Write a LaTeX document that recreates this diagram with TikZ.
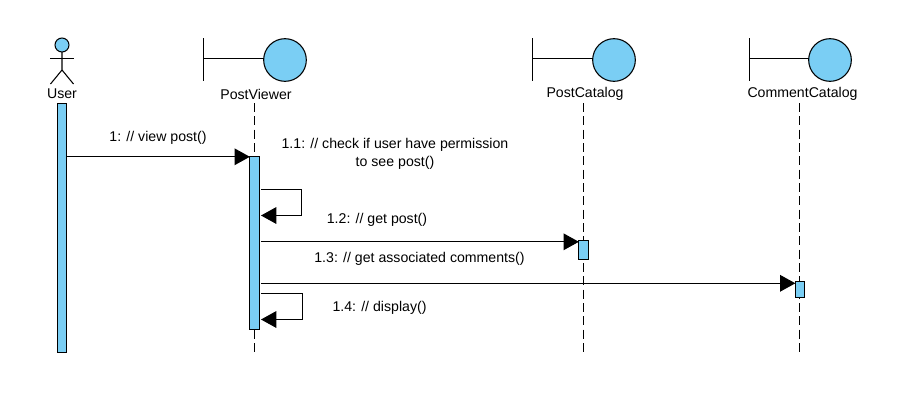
\documentclass[tikz,border=0pt]{standalone}
\usepackage{fontspec}
\setmainfont{Liberation Sans}
\usepackage{xcolor}
\usetikzlibrary{arrows.meta}
\definecolor{actfill}{HTML}{7ACEF4}
\tikzset{
  label/.style={font=\fontsize{10.6}{13.2}\selectfont, inner sep=0pt},
  lifeline/.style={line width=0.8pt, dash pattern=on 6.75pt off 3.25pt},
  actbar/.style={draw, fill=actfill, line width=0.75pt, minimum width=7pt, inner sep=0pt, outer sep=0pt},
  ball/.style={draw, circle, fill=actfill, line width=0.8pt, minimum size=32pt, inner sep=0pt, outer sep=0pt},
  msg/.style={line width=0.8pt, -{Triangle[length=11.5pt, width=12.5pt]}},
  selfmsg/.style={msg, shorten <=1.5pt, shorten >=1.5pt}
}
\begin{document}
\begin{tikzpicture}[x=0.75pt, y=-0.75pt]
\useasboundingbox (0,0) rectangle (916,404);

% Actor
\node[draw, circle, fill=actfill, line width=0.8pt, minimum size=10.5pt, inner sep=0pt, outer sep=0pt] (userhead) at (62,45) {};
\draw[line width=0.8pt] (userhead) -- (62,70) -- (50.5,84);
\draw[line width=0.8pt] (62,70) -- (73.5,84);
\draw[line width=0.8pt] (50,58.5) -- (73.5,58.5);
\node[label] (usertext) at (62,94) {User};

% Boundary lifelines
\coordinate (viewerbase) at (203.5,58.5);
\draw[line width=0.8pt] (203.5,38) -- (203.5,81);
\node[ball] (viewerball) at (285,60) {};
\draw[line width=0.8pt] (viewerbase) -- (viewerball.west |- viewerbase);
\node[label] (viewertext) at (256,94) {PostViewer};
\coordinate (viewertop) at (254.5,103);
\coordinate (viewerend) at (254.5,355);
\draw[lifeline] (viewertop) -- (viewerend);

\coordinate (postbase) at (532.5,58.5);
\draw[line width=0.8pt] (532.5,38) -- (532.5,81);
\node[ball] (postball) at (614,60) {};
\draw[line width=0.8pt] (postbase) -- (postball.west |- postbase);
\node[label] (posttext) at (585,94) {PostCatalog};
\coordinate (posttop) at (583.5,103);
\coordinate (postend) at (583.5,355);
\draw[lifeline] (posttop) -- (postend);

\coordinate (commentbase) at (749.5,58.5);
\draw[line width=0.8pt] (749.5,38) -- (749.5,81);
\node[ball] (commentball) at (830,60) {};
\draw[line width=0.8pt] (commentbase) -- (commentball.west |- commentbase);
\node[label] (commenttext) at (802.5,94) {CommentCatalog};
\coordinate (commenttop) at (799.5,103);
\coordinate (commentend) at (799.5,355);
\draw[lifeline] (commenttop) -- (commentend);

% Activation bars
\node[actbar, minimum height=186.75pt] (userbar) at (62,227.5) {};
\node[actbar, minimum height=129.75pt] (viewerbar) at (254.5,242.75) {};
\node[actbar, minimum height=14.5pt] (postbar) at (583.5,250) {};
\node[actbar, minimum height=11.5pt] (commentbar) at (800,289.5) {};

% Messages
\draw[msg] ([yshift=-0.4pt]userbar.east |- viewerbar.north) -- ([yshift=-0.4pt]viewerbar.north west);
\node[label] (viewmsg) at (158,138) {1: // view post()};

\coordinate (checkout) at (259,189.5);
\coordinate (checkin) at (259,215.5);
\draw[selfmsg] (checkout) -- (301.5,189.5) -- (301.5,215.5) -- (checkin);
\node[label, align=center] (checkmsg) at (395,154) {1.1: // check if user have permission\\to see post()};

\draw[msg, shorten <=1.5pt] ([yshift=-1.1pt]viewerbar.east |- postbar.north) -- ([yshift=-1.1pt]postbar.north west);
\node[label] (getmsg) at (377,220) {1.2: // get post()};

\draw[msg, shorten <=1.5pt] ([yshift=-1.1pt]viewerbar.east |- commentbar.north) -- ([yshift=-1.1pt]commentbar.north west);
\node[label] (commentsmsg) at (419.5,259) {1.3: // get associated comments()};

\coordinate (showout) at (259,293.5);
\coordinate (showin) at (259,319.5);
\draw[selfmsg] (showout) -- (302.5,293.5) -- (302.5,319.5) -- (showin);
\node[label] (showmsg) at (379.5,308) {1.4: // display()};
\end{tikzpicture}
\end{document}
